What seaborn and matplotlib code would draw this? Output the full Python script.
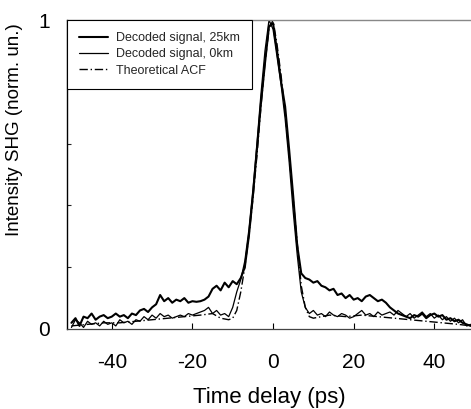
import matplotlib
matplotlib.use("Agg")
import matplotlib.pyplot as plt
import seaborn as sns
import pandas as pd
from matplotlib.ticker import FixedLocator

sns.set_theme(style="white")
plt.rcParams['font.family'] = ['Liberation Sans', 'DejaVu Sans']

# time delay grid (ps) for measured traces
t_meas = [-50, -49, -48, -47, -46, -45, -44, -43, -42, -41,
          -40, -39, -38, -37, -36, -35, -34, -33, -32, -31,
          -30, -29, -28, -27, -26, -25, -24, -23, -22, -21,
          -20, -19, -18, -17, -16, -15, -14, -13, -12, -11,
          -10, -9, -8, -7, -6, -5, -4, -3, -2, -1,
          0, 1, 2, 3, 4, 5, 6, 7, 8, 9,
          10, 11, 12, 13, 14, 15, 16, 17, 18, 19,
          20, 21, 22, 23, 24, 25, 26, 27, 28, 29,
          30, 31, 32, 33, 34, 35, 36, 37, 38, 39,
          40, 41, 42, 43, 44, 45, 46, 47, 48, 49]

sig_25km = [0.02, 0.035, 0.01, 0.04, 0.035, 0.05, 0.03, 0.04, 0.045, 0.035,
            0.04, 0.05, 0.04, 0.045, 0.035, 0.05, 0.045, 0.06, 0.065, 0.055,
            0.07, 0.08, 0.11, 0.09, 0.10, 0.085, 0.095, 0.09, 0.10, 0.085,
            0.09, 0.088, 0.09, 0.095, 0.105, 0.13, 0.14, 0.125, 0.15, 0.135,
            0.155, 0.145, 0.165, 0.20, 0.30, 0.43, 0.58, 0.73, 0.86, 0.98,
            0.99, 0.90, 0.80, 0.72, 0.58, 0.43, 0.27, 0.18, 0.165, 0.16,
            0.15, 0.155, 0.14, 0.135, 0.125, 0.13, 0.11, 0.115, 0.10, 0.11,
            0.095, 0.10, 0.09, 0.105, 0.11, 0.10, 0.09, 0.095, 0.085, 0.07,
            0.06, 0.05, 0.045, 0.04, 0.035, 0.045, 0.04, 0.05, 0.035, 0.045,
            0.05, 0.04, 0.045, 0.03, 0.035, 0.025, 0.03, 0.02, 0.015, 0.01]

sig_0km = [0.005, 0.03, 0.02, 0.005, 0.025, 0.015, 0.02, 0.01, 0.025, 0.015,
           0.02, 0.01, 0.03, 0.02, 0.025, 0.015, 0.03, 0.025, 0.04, 0.03,
           0.045, 0.035, 0.05, 0.04, 0.045, 0.035, 0.04, 0.045, 0.04, 0.05,
           0.045, 0.05, 0.055, 0.06, 0.07, 0.05, 0.06, 0.045, 0.05, 0.04,
           0.07, 0.12, 0.16, 0.22, 0.32, 0.45, 0.60, 0.76, 0.90, 1.0,
           0.97, 0.88, 0.79, 0.68, 0.54, 0.38, 0.24, 0.12, 0.07, 0.05,
           0.06, 0.045, 0.05, 0.04, 0.055, 0.045, 0.04, 0.05, 0.045, 0.035,
           0.04, 0.05, 0.06, 0.045, 0.05, 0.04, 0.055, 0.045, 0.05, 0.055,
           0.045, 0.06, 0.05, 0.04, 0.05, 0.035, 0.045, 0.055, 0.04, 0.05,
           0.035, 0.045, 0.03, 0.04, 0.025, 0.035, 0.02, 0.03, 0.01, 0.015]

t_acf = [-50, -46, -42, -38, -34, -30, -26, -22, -18, -15, -13, -11, -10, -9,
         -8, -7, -6, -5, -4, -3, -2, -1, 0, 1, 2, 3, 4, 5, 6, 7, 8, 9, 10,
         12, 14, 18, 22, 26, 30, 34, 38, 42, 46, 49]
acf = [0.01, 0.015, 0.02, 0.02, 0.025, 0.03, 0.035, 0.04, 0.045, 0.05, 0.035,
       0.03, 0.035, 0.06, 0.12, 0.20, 0.30, 0.42, 0.56, 0.72, 0.86, 0.97, 1.0,
       0.92, 0.82, 0.70, 0.56, 0.42, 0.28, 0.14, 0.07, 0.04, 0.035, 0.04, 0.045,
       0.04, 0.045, 0.04, 0.035, 0.03, 0.025, 0.02, 0.015, 0.01]

labels = ["Decoded signal, 25km", "Decoded signal, 0km", "Theoretical ACF"]
xticks = [-40, -20, 0, 20, 40]

W, H = 471, 409
fig = plt.figure(figsize=(W / 100, H / 100), dpi=100)
ax = fig.add_axes([67 / W, 1 - 329 / H, (471 - 67) / W, (329 - 20) / H])

df1 = pd.DataFrame({"t": t_meas, "v": sig_25km})
df2 = pd.DataFrame({"t": t_meas, "v": sig_0km})
df3 = pd.DataFrame({"t": t_acf, "v": acf})

sns.lineplot(data=df1, x="t", y="v", ax=ax, color="black", linewidth=1.5,
             label=labels[0])
sns.lineplot(data=df2, x="t", y="v", ax=ax, color="black", linewidth=0.9,
             label=labels[1])
sns.lineplot(data=df3, x="t", y="v", ax=ax, color="black", linewidth=1.0,
             linestyle=(0, (6, 2, 1, 2)), label=labels[2])

ax.set_xlim(-51.1, 49.1)
ax.set_ylim(0, 1)
ax.set_xticks(xticks)
ax.set_xticklabels([str(v) for v in xticks])
ax.set_yticks([0, 1])
ax.set_yticklabels(["0", "1"])
ax.yaxis.set_minor_locator(FixedLocator([0.2, 0.4, 0.6, 0.8]))
ax.tick_params(axis="x", which="major", direction="in", length=4, width=0.8,
               pad=17, labelsize=15, colors="black")
ax.tick_params(axis="y", which="major", direction="in", length=0, pad=12,
               labelsize=15, colors="black")
ax.tick_params(axis="y", which="minor", direction="in", length=3, width=0.8,
               left=True)
ax.tick_params(bottom=True, left=True)

ax.spines["left"].set_color("black")
ax.spines["left"].set_linewidth(1.0)
ax.spines["bottom"].set_color("#444444")
ax.spines["bottom"].set_linewidth(0.9)
ax.spines["top"].set_color("#888888")
ax.spines["top"].set_linewidth(1.0)
ax.spines["right"].set_visible(False)

ax.set_xlabel("Time delay (ps)", fontsize=16, labelpad=11, color="black")
ax.set_ylabel("Intensity SHG (norm. un.)", fontsize=13.5, color="black")
ax.yaxis.set_label_coords((23 - 67) / 404, (329 - 130) / 309)

leg = ax.legend(loc="upper left", bbox_to_anchor=(0, 1), borderaxespad=0,
                fontsize=9, frameon=True, fancybox=False, borderpad=0.95,
                labelspacing=0.35, handlelength=2.3, handletextpad=0.7)
leg.get_frame().set_edgecolor("black")
leg.get_frame().set_linewidth(0.8)
leg.get_frame().set_alpha(1)

fig.savefig("out.png", dpi=100)
